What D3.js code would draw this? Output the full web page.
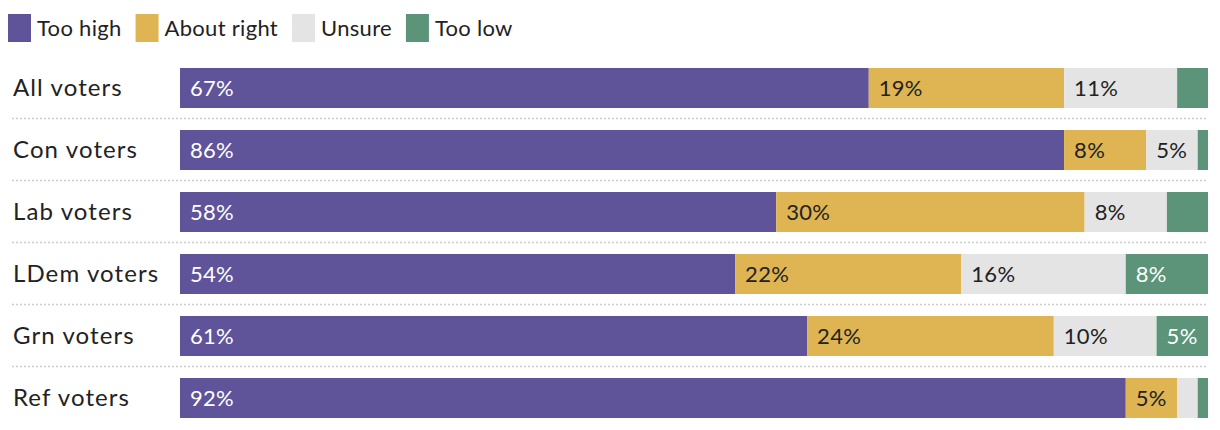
<!DOCTYPE html>
<html>
<head>
<meta charset="utf-8">
<script src="https://cdn.jsdelivr.net/npm/d3@7"></script>
<style>
  body { margin: 0; background: #fff; }
  svg { display: block; font-family: Lato, "Noto Sans", sans-serif; }
</style>
</head>
<body>
<div id="chart"></div>
<script>
const categories = ["All voters", "Con voters", "Lab voters", "LDem voters", "Grn voters", "Ref voters"]
const seriesNames = ["Too high", "About right", "Unsure", "Too low"]

const tooHigh = [67, 86, 58, 54, 61, 92]
const aboutRight = [19, 8, 30, 22, 24, 5]
const unsure = [11, 5, 8, 16, 10, 2]
const tooLow = [3, 1, 4, 8, 5, 1]

const colours = ["#5f5499", "#dfb553", "#e4e4e4", "#5b9478"]
const textColours = ["#fff", "#222", "#222", "#fff"]

const width = 1220
const height = 430

const rows = categories.map((name, i) => ({
    name: name,
    "Too high": tooHigh[i],
    "About right": aboutRight[i],
    "Unsure": unsure[i],
    "Too low": tooLow[i]
}))

const stack = d3.stack().keys(seriesNames)(rows)

const x = d3.scaleLinear()
    .domain([0, 100])
    .range([180, 1208])

const y = d3.scaleBand()
    .domain(categories)
    .range([57, 429])
    .paddingInner(22 / 62)
    .paddingOuter(11 / 62)

const svg = d3.select("#chart")
    .append("svg")
    .attr("width", width)
    .attr("height", height)

// legend
const legend = svg.append("g")
let lx = 8
seriesNames.forEach((name, i) => {
    const g = legend.append("g").attr("transform", `translate(${lx},0)`)
    g.append("rect")
        .attr("y", 14)
        .attr("width", 23)
        .attr("height", 28)
        .attr("fill", colours[i])
    const t = g.append("text")
        .attr("x", 29)
        .attr("y", 28)
        .attr("dy", "0.35em")
        .style("font-size", "22px")
        .style("letter-spacing", "0.3px")
        .attr("fill", "#222")
        .text(name)
    lx += 29 + t.node().getComputedTextLength() + 14
})

// separators
svg.append("g")
    .selectAll("line")
    .data(categories.slice(1))
    .join("line")
    .attr("x1", 12)
    .attr("x2", 1208)
    .attr("y1", d => y(d) - 11.5)
    .attr("y2", d => y(d) - 11.5)
    .attr("stroke", "#ccc")
    .attr("stroke-width", 1.5)
    .attr("stroke-dasharray", "2,2")

// row labels
svg.append("g")
    .selectAll("text")
    .data(categories)
    .join("text")
    .attr("x", 13)
    .attr("y", d => y(d) + y.bandwidth() / 2)
    .attr("dy", "0.35em")
    .style("font-size", "24px")
    .style("letter-spacing", "1.1px")
    .attr("fill", "#222")
    .text(d => d)

// bars
const series = svg.append("g")
    .selectAll("g")
    .data(stack)
    .join("g")
    .attr("fill", (d, i) => colours[i])

series.selectAll("rect")
    .data(d => d)
    .join("rect")
    .attr("x", d => x(d[0]))
    .attr("y", d => y(d.data.name))
    .attr("width", d => x(d[1]) - x(d[0]))
    .attr("height", y.bandwidth())

series.selectAll("text")
    .data(d => d.filter(v => v[1] - v[0] >= 5))
    .join("text")
    .attr("x", d => x(d[0]) + 10)
    .attr("y", d => y(d.data.name) + y.bandwidth() / 2)
    .attr("dy", "0.35em")
    .style("font-size", "22px")
    .style("letter-spacing", "0.3px")
    .attr("fill", function() { return textColours[stack.indexOf(d3.select(this.parentNode).datum())] })
    .text(d => (d[1] - d[0]) + "%")
</script>
</body>
</html>
